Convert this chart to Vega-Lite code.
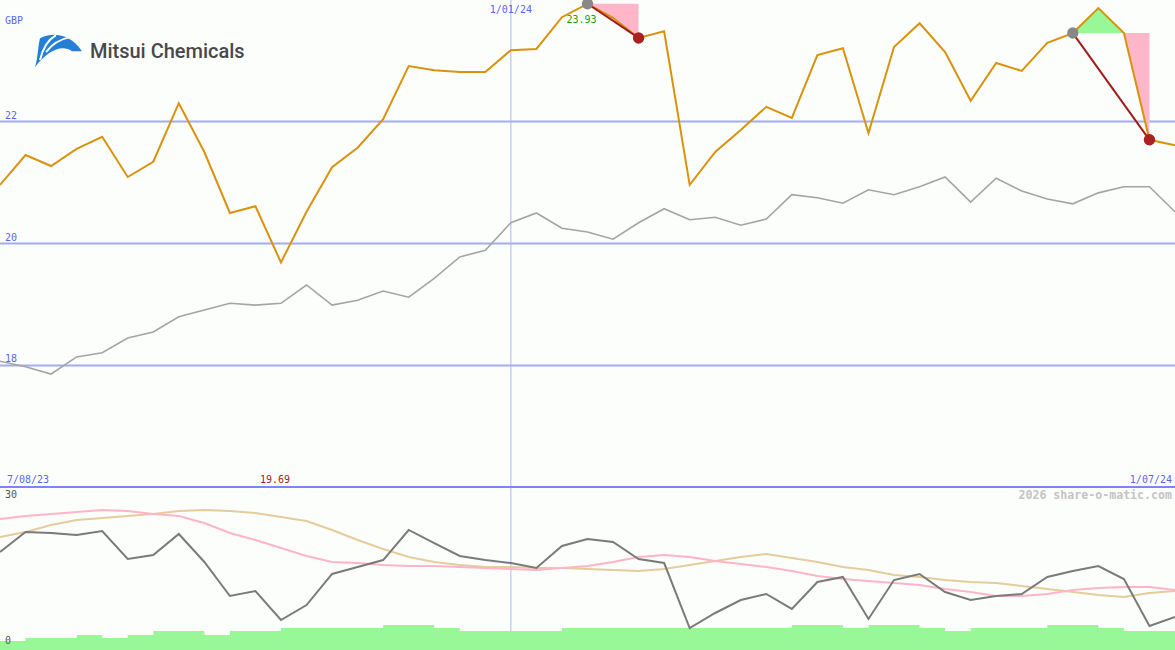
{
  "$schema": "https://vega.github.io/schema/vega-lite/v6.json",
  "background": "#fcfefc",
  "padding": 0,
  "spacing": 0,
  "config": {"view": {"stroke": null}, "text": {"font": "DejaVu Sans Mono", "fontSize": 10}},
  "datasets": {
    "weekly": [
      {"week": 0, "price": 20.96, "index": 18.07, "rsi": 18.04, "avgA": 24.11, "avgB": 20.80, "volume": 1.66},
      {"week": 1, "price": 21.45, "index": 17.98, "rsi": 21.72, "avgA": 24.66, "avgB": 21.72, "volume": 2.21},
      {"week": 2, "price": 21.27, "index": 17.86, "rsi": 21.53, "avgA": 25.03, "avgB": 23.01, "volume": 2.21},
      {"week": 3, "price": 21.55, "index": 18.14, "rsi": 21.17, "avgA": 25.40, "avgB": 23.93, "volume": 2.76},
      {"week": 4, "price": 21.75, "index": 18.21, "rsi": 21.90, "avgA": 25.77, "avgB": 24.29, "volume": 2.21},
      {"week": 5, "price": 21.09, "index": 18.45, "rsi": 16.75, "avgA": 25.58, "avgB": 24.66, "volume": 2.76},
      {"week": 6, "price": 21.34, "index": 18.55, "rsi": 17.48, "avgA": 25.03, "avgB": 25.03, "volume": 3.50},
      {"week": 7, "price": 22.30, "index": 18.80, "rsi": 21.35, "avgA": 24.66, "avgB": 25.58, "volume": 3.50},
      {"week": 8, "price": 21.50, "index": 18.91, "rsi": 16.20, "avgA": 23.37, "avgB": 25.77, "volume": 2.76},
      {"week": 9, "price": 20.50, "index": 19.02, "rsi": 9.94, "avgA": 21.53, "avgB": 25.58, "volume": 3.50},
      {"week": 10, "price": 20.61, "index": 18.99, "rsi": 10.86, "avgA": 20.25, "avgB": 25.21, "volume": 3.50},
      {"week": 11, "price": 19.69, "index": 19.02, "rsi": 5.52, "avgA": 18.77, "avgB": 24.48, "volume": 4.05},
      {"week": 12, "price": 20.52, "index": 19.32, "rsi": 8.28, "avgA": 17.30, "avgB": 23.74, "volume": 4.05},
      {"week": 13, "price": 21.25, "index": 18.99, "rsi": 13.99, "avgA": 16.20, "avgB": 22.09, "volume": 4.05},
      {"week": 14, "price": 21.57, "index": 19.07, "rsi": 15.28, "avgA": 16.01, "avgB": 20.25, "volume": 4.05},
      {"week": 15, "price": 22.04, "index": 19.22, "rsi": 16.56, "avgA": 15.64, "avgB": 18.59, "volume": 4.60},
      {"week": 16, "price": 22.91, "index": 19.12, "rsi": 22.09, "avgA": 15.46, "avgB": 17.12, "volume": 4.60},
      {"week": 17, "price": 22.84, "index": 19.43, "rsi": 19.69, "avgA": 15.46, "avgB": 16.20, "volume": 4.05},
      {"week": 18, "price": 22.81, "index": 19.78, "rsi": 17.30, "avgA": 15.28, "avgB": 15.64, "volume": 3.50},
      {"week": 19, "price": 22.81, "index": 19.89, "rsi": 16.56, "avgA": 15.09, "avgB": 15.28, "volume": 3.50},
      {"week": 20, "price": 23.17, "index": 20.34, "rsi": 16.01, "avgA": 14.91, "avgB": 15.28, "volume": 3.50},
      {"week": 21, "price": 23.19, "index": 20.50, "rsi": 15.09, "avgA": 14.72, "avgB": 15.09, "volume": 3.50},
      {"week": 22, "price": 23.71, "index": 20.25, "rsi": 19.14, "avgA": 15.09, "avgB": 15.09, "volume": 4.05},
      {"week": 23, "price": 23.93, "index": 20.19, "rsi": 20.43, "avgA": 15.46, "avgB": 14.91, "volume": 4.05},
      {"week": 24, "price": 23.70, "index": 20.07, "rsi": 19.88, "avgA": 16.20, "avgB": 14.72, "volume": 4.05},
      {"week": 25, "price": 23.37, "index": 20.34, "rsi": 16.75, "avgA": 17.12, "avgB": 14.54, "volume": 4.05},
      {"week": 26, "price": 23.48, "index": 20.57, "rsi": 16.01, "avgA": 17.48, "avgB": 14.91, "volume": 4.05},
      {"week": 27, "price": 20.96, "index": 20.39, "rsi": 4.05, "avgA": 17.12, "avgB": 15.64, "volume": 4.05},
      {"week": 28, "price": 21.50, "index": 20.43, "rsi": 6.81, "avgA": 16.38, "avgB": 16.38, "volume": 4.05},
      {"week": 29, "price": 21.86, "index": 20.30, "rsi": 9.20, "avgA": 15.83, "avgB": 17.12, "volume": 4.05},
      {"week": 30, "price": 22.24, "index": 20.40, "rsi": 10.31, "avgA": 15.28, "avgB": 17.67, "volume": 4.05},
      {"week": 31, "price": 22.06, "index": 20.80, "rsi": 7.55, "avgA": 14.54, "avgB": 16.93, "volume": 4.60},
      {"week": 32, "price": 23.09, "index": 20.75, "rsi": 12.52, "avgA": 13.62, "avgB": 16.20, "volume": 4.60},
      {"week": 33, "price": 23.20, "index": 20.66, "rsi": 13.44, "avgA": 13.07, "avgB": 15.28, "volume": 4.05},
      {"week": 34, "price": 21.81, "index": 20.88, "rsi": 5.71, "avgA": 12.70, "avgB": 14.72, "volume": 4.60},
      {"week": 35, "price": 23.22, "index": 20.80, "rsi": 12.88, "avgA": 12.33, "avgB": 13.80, "volume": 4.60},
      {"week": 36, "price": 23.61, "index": 20.93, "rsi": 13.99, "avgA": 11.96, "avgB": 13.44, "volume": 4.05},
      {"week": 37, "price": 23.14, "index": 21.09, "rsi": 10.67, "avgA": 11.23, "avgB": 12.88, "volume": 3.50},
      {"week": 38, "price": 22.34, "index": 20.68, "rsi": 9.20, "avgA": 10.67, "avgB": 12.52, "volume": 4.05},
      {"week": 39, "price": 22.96, "index": 21.07, "rsi": 9.94, "avgA": 9.94, "avgB": 12.33, "volume": 4.05},
      {"week": 40, "price": 22.83, "index": 20.86, "rsi": 10.31, "avgA": 9.94, "avgB": 11.78, "volume": 4.05},
      {"week": 41, "price": 23.29, "index": 20.73, "rsi": 13.44, "avgA": 10.31, "avgB": 11.23, "volume": 4.60},
      {"week": 42, "price": 23.45, "index": 20.65, "rsi": 14.54, "avgA": 11.04, "avgB": 10.67, "volume": 4.60},
      {"week": 43, "price": 23.86, "index": 20.83, "rsi": 15.46, "avgA": 11.41, "avgB": 10.12, "volume": 4.05},
      {"week": 44, "price": 23.45, "index": 20.93, "rsi": 13.07, "avgA": 11.60, "avgB": 9.75, "volume": 3.50},
      {"week": 45, "price": 21.70, "index": 20.93, "rsi": 4.42, "avgA": 11.60, "avgB": 10.49, "volume": 3.50},
      {"week": 46, "price": 21.61, "index": 20.52, "rsi": 6.07, "avgA": 11.04, "avgB": 10.86, "volume": 3.50}
    ],
    "fills": [
      {"seg": "d1", "zone": "loss", "week": 23, "value": 23.93, "base": 23.93},
      {"seg": "d1", "zone": "loss", "week": 25, "value": 23.37, "base": 23.93},
      {"seg": "r1", "zone": "gain", "week": 42, "value": 23.45, "base": 23.45},
      {"seg": "r1", "zone": "gain", "week": 43, "value": 23.86, "base": 23.45},
      {"seg": "r1", "zone": "gain", "week": 44, "value": 23.45, "base": 23.45},
      {"seg": "d2", "zone": "loss", "week": 44, "value": 23.45, "base": 23.45},
      {"seg": "d2", "zone": "loss", "week": 45, "value": 21.70, "base": 23.45}
    ],
    "swings": [
      {"seg": "A", "role": "start", "week": 23, "value": 23.93},
      {"seg": "A", "role": "end", "week": 25, "value": 23.37},
      {"seg": "B", "role": "start", "week": 42, "value": 23.45},
      {"seg": "B", "role": "end", "week": 45, "value": 21.70}
    ],
    "levels": [
      {"week": 0, "level": 18},
      {"week": 0, "level": 20},
      {"week": 0, "level": 22}
    ]
  },
  "vconcat": [
    {
      "width": 1175,
      "height": 487,
      "layer": [
        {
          "data": {"name": "levels"},
          "mark": {"type": "rule", "color": "#a3abf3", "strokeWidth": 2, "clip": true},
          "encoding": {"y": {"field": "level", "type": "quantitative", "scale": {"domain": [16.008, 23.992], "nice": false, "zero": false}, "axis": null}}
        },
        {
          "data": {"name": "levels"},
          "mark": {"type": "text", "align": "left", "baseline": "bottom", "dx": 5, "dy": -1, "color": "#5a66f0"},
          "encoding": {
            "x": {"field": "week", "type": "quantitative", "scale": {"domain": [0, 46], "nice": false, "zero": false}, "axis": null},
            "y": {"field": "level", "type": "quantitative"},
            "text": {"field": "level", "type": "quantitative"}
          }
        },
        {
          "data": {"values": [{"week": 20}]},
          "mark": {"type": "rule", "color": "#b4b8e4", "strokeWidth": 1, "clip": true},
          "encoding": {"x": {"field": "week", "type": "quantitative"}}
        },
        {
          "data": {"name": "fills"},
          "mark": {"type": "area", "opacity": 1, "clip": true},
          "encoding": {
            "x": {"field": "week", "type": "quantitative"},
            "y": {"field": "value", "type": "quantitative"},
            "y2": {"field": "base"},
            "color": {"field": "zone", "type": "nominal", "scale": {"domain": ["loss", "gain"], "range": ["#ffb6c8", "#98f898"]}, "legend": null},
            "detail": {"field": "seg", "type": "nominal"}
          }
        },
        {
          "data": {"name": "weekly"},
          "mark": {"type": "line", "color": "#a4a4a4", "strokeWidth": 1.6, "clip": true},
          "encoding": {"x": {"field": "week", "type": "quantitative"}, "y": {"field": "index", "type": "quantitative"}}
        },
        {
          "data": {"name": "weekly"},
          "mark": {"type": "line", "color": "#d8920c", "strokeWidth": 2, "clip": true},
          "encoding": {"x": {"field": "week", "type": "quantitative"}, "y": {"field": "price", "type": "quantitative"}}
        },
        {
          "data": {"name": "swings"},
          "mark": {"type": "line", "color": "#a01c1c", "strokeWidth": 2, "clip": true},
          "encoding": {"x": {"field": "week", "type": "quantitative"}, "y": {"field": "value", "type": "quantitative"}, "detail": {"field": "seg", "type": "nominal"}}
        },
        {
          "data": {"name": "swings"},
          "mark": {"type": "circle", "size": 130, "opacity": 1, "clip": true},
          "encoding": {
            "x": {"field": "week", "type": "quantitative"},
            "y": {"field": "value", "type": "quantitative"},
            "fill": {"field": "role", "type": "nominal", "scale": {"domain": ["start", "end"], "range": ["#888888", "#a82222"]}, "legend": null}
          }
        },
        {
          "data": {"values": [{"label": "GBP", "week": 0, "value": 23.648}]},
          "mark": {"type": "text", "align": "left", "baseline": "middle", "dx": 5, "color": "#5a66f0"},
          "encoding": {"x": {"field": "week", "type": "quantitative"}, "y": {"field": "value", "type": "quantitative"}, "text": {"field": "label", "type": "nominal"}}
        },
        {
          "data": {"values": [{"label": "1/01/24", "week": 20, "value": 23.992}]},
          "mark": {"type": "text", "align": "center", "baseline": "top", "dy": 5, "color": "#5a66f0"},
          "encoding": {"x": {"field": "week", "type": "quantitative"}, "y": {"field": "value", "type": "quantitative"}, "text": {"field": "label", "type": "nominal"}}
        },
        {
          "data": {"values": [{"label": "23.93", "week": 23, "value": 23.93}]},
          "mark": {"type": "text", "align": "center", "baseline": "middle", "dx": -6, "dy": 16, "color": "#229922"},
          "encoding": {"x": {"field": "week", "type": "quantitative"}, "y": {"field": "value", "type": "quantitative"}, "text": {"field": "label", "type": "nominal"}}
        },
        {
          "data": {"values": [{"label": "19.69", "week": 11, "value": 16.008}]},
          "mark": {"type": "text", "align": "center", "baseline": "bottom", "dx": -6, "dy": -2, "color": "#a01c1c"},
          "encoding": {"x": {"field": "week", "type": "quantitative"}, "y": {"field": "value", "type": "quantitative"}, "text": {"field": "label", "type": "nominal"}}
        },
        {
          "data": {"values": [{"label": "7/08/23", "week": 0, "value": 16.008}]},
          "mark": {"type": "text", "align": "left", "baseline": "bottom", "dx": 7, "dy": -2, "color": "#5a66f0"},
          "encoding": {"x": {"field": "week", "type": "quantitative"}, "y": {"field": "value", "type": "quantitative"}, "text": {"field": "label", "type": "nominal"}}
        },
        {
          "data": {"values": [{"label": "1/07/24", "week": 46, "value": 16.008}]},
          "mark": {"type": "text", "align": "right", "baseline": "bottom", "dx": -3, "dy": -2, "color": "#5a66f0"},
          "encoding": {"x": {"field": "week", "type": "quantitative"}, "y": {"field": "value", "type": "quantitative"}, "text": {"field": "label", "type": "nominal"}}
        },
        {
          "data": {"values": [{"label": "Mitsui Chemicals", "week": 3.52, "value": 23.14}]},
          "mark": {"type": "text", "align": "left", "baseline": "middle", "font": "Roboto", "fontWeight": 500, "fontSize": 20, "color": "#48484c"},
          "encoding": {"x": {"field": "week", "type": "quantitative"}, "y": {"field": "value", "type": "quantitative"}, "text": {"field": "label", "type": "nominal"}}
        },
        {
          "data": {"values": [{"week": 2.27, "value": 23.17}]},
          "mark": {
            "type": "point", "filled": true, "opacity": 1, "size": 2304, "color": "#2380d6",
            "shape": "M -0.958,0.708 C -0.833,0.333 -0.833,-0.208 -0.75,-0.5 C -0.25,-0.75 0.5,-0.708 1,0.042 L 0.583,0.042 C 0.167,-0.25 -0.417,0 -0.958,0.708 Z"
          },
          "encoding": {"x": {"field": "week", "type": "quantitative"}, "y": {"field": "value", "type": "quantitative"}}
        },
        {
          "data": {"values": [{"week": 2.27, "value": 23.17}]},
          "mark": {
            "type": "point", "filled": false, "opacity": 1, "size": 2304, "color": "#fcfefc", "strokeWidth": 2,
            "shape": "M -0.75,0.417 Q -0.583,-0.333 -0.083,-0.625 M -0.5,0.083 Q -0.125,-0.417 0.5,-0.542"
          },
          "encoding": {"x": {"field": "week", "type": "quantitative"}, "y": {"field": "value", "type": "quantitative"}}
        },
        {
          "data": {"values": [{"level": 16.008}]},
          "mark": {"type": "rule", "color": "#7a86f2", "strokeWidth": 2, "clip": true},
          "encoding": {"y": {"field": "level", "type": "quantitative"}}
        }
      ]
    },
    {
      "width": 1175,
      "height": 163,
      "layer": [
        {
          "data": {"values": [{"week": 20}]},
          "mark": {"type": "rule", "color": "#b4b8e4", "strokeWidth": 1, "clip": true},
          "encoding": {"x": {"field": "week", "type": "quantitative", "scale": {"domain": [0, 46], "nice": false, "zero": false}, "axis": null}}
        },
        {
          "data": {"name": "weekly"},
          "mark": {"type": "area", "interpolate": "step-after", "color": "#98f898", "opacity": 1, "clip": true},
          "encoding": {
            "x": {"field": "week", "type": "quantitative"},
            "y": {"field": "volume", "type": "quantitative", "scale": {"domain": [0, 30], "nice": false}, "axis": null}
          }
        },
        {
          "data": {"name": "weekly"},
          "mark": {"type": "line", "color": "#e4cc9c", "strokeWidth": 2, "clip": true},
          "encoding": {"x": {"field": "week", "type": "quantitative"}, "y": {"field": "avgB", "type": "quantitative"}}
        },
        {
          "data": {"name": "weekly"},
          "mark": {"type": "line", "color": "#ffb4c8", "strokeWidth": 2, "clip": true},
          "encoding": {"x": {"field": "week", "type": "quantitative"}, "y": {"field": "avgA", "type": "quantitative"}}
        },
        {
          "data": {"name": "weekly"},
          "mark": {"type": "line", "color": "#7a7a7a", "strokeWidth": 2, "clip": true},
          "encoding": {"x": {"field": "week", "type": "quantitative"}, "y": {"field": "rsi", "type": "quantitative"}}
        },
        {
          "data": {"values": [{"level": 30}]},
          "mark": {"type": "rule", "color": "#7a86f2", "strokeWidth": 2, "clip": true},
          "encoding": {"y": {"field": "level", "type": "quantitative"}}
        },
        {
          "data": {"values": [{"label": "30", "week": 0, "value": 30}]},
          "mark": {"type": "text", "align": "left", "baseline": "top", "dx": 5, "dy": 3, "color": "#555555"},
          "encoding": {"x": {"field": "week", "type": "quantitative"}, "y": {"field": "value", "type": "quantitative"}, "text": {"field": "label", "type": "nominal"}}
        },
        {
          "data": {"values": [{"label": "0", "week": 0, "value": 0}]},
          "mark": {"type": "text", "align": "left", "baseline": "bottom", "dx": 5, "dy": -4, "color": "#555555"},
          "encoding": {"x": {"field": "week", "type": "quantitative"}, "y": {"field": "value", "type": "quantitative"}, "text": {"field": "label", "type": "nominal"}}
        },
        {
          "data": {"values": [{"label": "2026 share-o-matic.com", "week": 46, "value": 30}]},
          "mark": {"type": "text", "align": "right", "baseline": "top", "dx": -3, "dy": 3, "fontWeight": "bold", "fontSize": 11.6, "color": "#c4c4c4"},
          "encoding": {"x": {"field": "week", "type": "quantitative"}, "y": {"field": "value", "type": "quantitative"}, "text": {"field": "label", "type": "nominal"}}
        }
      ]
    }
  ]
}
